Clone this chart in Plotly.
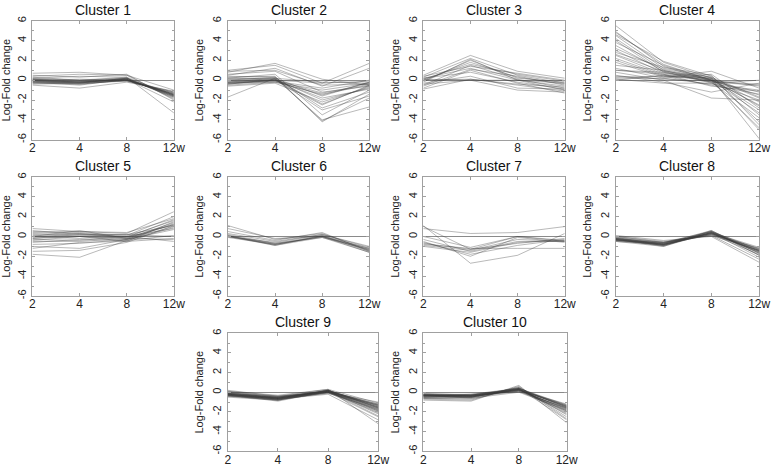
import plotly.graph_objects as go

TIMEPOINTS = ["2", "4", "8", "12w"]
YTICK_VALUES = [-6, -4, -2, 0, 2, 4, 6]
YTICK_LABELS = ["-6", "-4", "-2", "0", "2", "4", "6"]
TITLES = ["Cluster 1", "Cluster 2", "Cluster 3", "Cluster 4", "Cluster 5",
          "Cluster 6", "Cluster 7", "Cluster 8", "Cluster 9", "Cluster 10"]

CLUSTER_1 = [
    [0.0, -0.2, 0.1, -1.5], [-0.2, -0.3, 0.0, -1.4], [0.1, -0.1, 0.2, -1.6],
    [-0.3, -0.4, 0.0, -1.3], [-0.1, -0.2, 0.1, -1.7], [0.2, 0.0, 0.3, -1.5],
    [-0.4, -0.3, -0.1, -1.2], [0.0, -0.3, 0.2, -1.8], [-0.2, -0.1, 0.0, -1.4],
    [0.1, -0.2, 0.1, -1.6], [-0.1, -0.4, 0.0, -1.5], [0.0, -0.2, -0.1, -1.3],
    [0.3, 0.0, 0.2, -1.7], [-0.3, -0.2, 0.1, -1.6], [0.7, 0.8, 0.5, -1.9],
    [0.5, 0.3, 0.6, -2.0], [-0.5, -0.8, -0.2, -1.1], [0.2, 0.4, 0.3, -3.3],
    [-0.2, -0.5, 0.1, -2.2], [0.0, 0.1, 0.0, -1.2], [-0.1, -0.3, 0.2, -1.5],
    [0.1, -0.1, 0.0, -1.4], [0.4, 0.6, 0.5, -1.0],
]
CLUSTER_2 = [
    [0.8, 1.7, 0.1, -0.5], [1.0, 1.5, -0.3, 1.7], [0.5, 1.2, -0.6, 1.2],
    [-1.7, 0.2, -0.2, -0.3], [-0.2, 0.0, -1.3, -0.4], [-0.3, -0.1, -1.5, -0.2],
    [0.0, 0.1, -2.0, -0.8], [-0.4, 0.0, -2.5, -0.5], [0.3, 0.4, -4.2, -1.4],
    [-0.2, 0.2, -4.0, -2.7], [0.2, 0.6, -3.5, -1.0], [-0.5, -0.2, -1.0, -0.3],
    [0.6, 0.9, -1.2, -0.6], [-0.3, 0.0, -0.3, -0.1], [-0.1, 0.0, -1.8, -0.9],
    [0.4, 0.3, -2.8, -1.2], [-0.6, -0.3, -2.2, -0.7], [0.1, 0.2, -1.6, -0.2],
    [-0.2, -0.1, -0.8, 0.0], [0.9, 1.0, -0.5, -0.4], [-0.4, 0.1, -3.0, -1.6],
    [0.2, 0.1, -2.4, -0.6], [-0.3, -0.2, -1.4, -0.5], [0.0, 0.3, -4.1, -1.8],
]
CLUSTER_3 = [
    [0.5, 2.5, 0.9, 0.2], [0.3, 2.2, 0.5, -0.3], [-0.2, 2.1, 0.0, -0.6],
    [0.0, 1.8, 0.3, -0.4], [-0.5, 1.5, 0.1, -0.8], [0.2, 1.2, 0.0, -1.0],
    [-0.8, 1.0, -0.3, -1.3], [-0.9, 0.1, -0.5, -1.1], [0.1, 0.0, -1.0, -1.2],
    [-0.3, 0.4, -0.8, -0.9], [0.4, 1.4, 0.7, 0.0], [-0.1, 2.0, 0.2, -0.2],
    [0.0, 0.1, -0.4, -0.7], [-0.6, 1.1, 0.4, -0.5], [0.2, 0.8, -0.2, -0.9],
    [-0.4, 0.0, 0.0, -0.3], [0.1, 1.6, 0.6, -0.1],
]
CLUSTER_4 = [
    [5.5, 1.8, 0.2, -5.9], [4.8, 1.6, 0.0, -5.0], [4.5, 1.2, 0.3, -4.2],
    [4.2, 1.0, -0.2, -3.8], [4.0, 0.8, 0.1, -3.0], [3.8, 1.5, 0.0, -2.5],
    [3.5, 0.9, -0.3, -2.0], [3.0, 0.7, 0.2, -1.8], [2.8, 1.3, 0.5, -4.5],
    [2.5, 0.6, 0.0, -1.5], [2.2, 0.5, -0.1, -1.2], [2.0, 0.4, 0.2, -2.2],
    [1.8, 0.3, 0.9, -0.8], [1.5, 1.0, 0.0, -3.3], [1.2, 0.2, -0.4, -1.0],
    [1.0, 0.8, -0.2, -0.5], [0.8, 0.0, -1.8, -2.0], [0.5, -0.2, -1.2, -0.3],
    [0.3, 0.4, -0.5, -1.4], [0.1, -0.3, -0.3, 0.0], [0.0, 0.5, 0.0, -0.6],
    [0.2, 0.2, 0.6, -2.8], [4.6, 1.9, 0.4, -3.5], [3.2, 1.1, 0.1, -2.6],
    [1.0, 0.6, -0.6, -1.1], [0.4, 0.1, -0.1, -0.4], [2.6, 0.9, 0.3, -1.7],
    [4.9, 1.4, -0.1, -4.8],
]
CLUSTER_5 = [
    [0.8, 0.5, 0.3, 2.5], [0.5, 0.4, 0.1, 2.0], [0.2, 0.3, 0.0, 1.6],
    [0.0, 0.6, -0.2, 1.4], [-0.2, 0.2, -0.1, 1.2], [-0.4, 0.0, -0.3, 1.0],
    [-1.2, -0.6, -0.5, 1.5], [-1.5, -1.4, -0.6, 1.1], [-1.8, -2.1, -0.4, 0.9],
    [-1.0, -1.2, -0.3, 1.3], [0.3, 0.1, -0.2, -0.3], [-0.3, -0.4, 0.0, -0.5],
    [0.1, 0.0, 0.2, 0.0], [-0.6, -0.3, -0.4, 0.1], [0.4, 0.5, 0.4, 1.8],
    [-0.1, 0.3, -0.1, 1.7], [0.0, -0.2, 0.0, 0.8], [-0.5, -0.5, -0.2, 1.2],
    [0.6, 0.2, 0.2, 1.1], [-0.2, 0.0, -0.5, -0.2], [-0.8, -0.7, -0.3, 0.7],
]
CLUSTER_6 = [
    [1.1, -0.3, 0.3, -1.4], [0.8, -0.2, 0.0, -1.2], [0.5, -0.4, 0.4, -1.5],
    [0.1, -0.8, 0.0, -1.3], [0.0, -0.9, -0.1, -1.6], [0.2, -0.7, 0.1, -1.2],
    [-0.1, -0.8, 0.0, -1.4], [0.0, -0.6, 0.2, -1.1], [0.1, -0.9, 0.1, -1.5],
    [0.0, -0.7, -0.1, -1.3], [0.3, -0.5, 0.2, -1.0], [0.0, -0.8, 0.0, -1.6],
]
CLUSTER_7 = [
    [0.8, 0.3, 0.4, 1.0], [1.1, -2.7, -1.9, 0.3], [1.0, -1.3, 0.0, -0.4],
    [-0.3, -1.5, -0.5, -0.5], [-0.6, -1.8, -0.9, -0.3], [-0.8, -1.2, -1.2, -1.2],
    [-0.9, -1.4, -0.3, -0.5], [-1.0, -1.6, -0.6, -0.4], [-0.5, -2.0, -0.1, -0.6],
    [-0.7, -1.3, -0.7, -0.2], [0.0, -1.1, 0.0, -0.5],
]
CLUSTER_8 = [
    [-0.3, -0.8, 0.4, -1.5], [-0.2, -0.7, 0.3, -1.3], [-0.4, -0.9, 0.5, -1.7],
    [-0.1, -0.6, 0.2, -1.2], [-0.5, -1.0, 0.6, -1.9], [0.0, -0.5, 0.1, -1.4],
    [-0.3, -0.9, 0.4, -2.1], [-0.2, -0.8, 0.3, -1.6], [-0.4, -0.7, 0.5, -1.4],
    [0.1, -0.4, 0.0, -2.6], [-0.3, -0.8, 0.2, -1.8], [-0.2, -0.9, 0.4, -1.1],
    [-0.4, -0.6, 0.3, -1.5], [-0.1, -0.8, 0.5, -1.3], [-0.3, -1.0, 0.4, -1.6],
    [-0.5, -0.8, 0.2, -1.4], [-0.2, -0.7, 0.6, -1.7], [0.0, -0.6, 0.1, -2.3],
    [-0.3, -0.9, 0.3, -1.2], [-0.4, -0.8, 0.4, -1.5], [-0.2, -0.6, 0.5, -1.9],
    [-0.3, -0.7, 0.3, -1.4],
]
CLUSTER_9 = [
    [-0.2, -0.6, 0.1, -1.5], [-0.1, -0.5, 0.0, -1.3], [-0.3, -0.7, 0.2, -1.8],
    [0.0, -0.4, 0.1, -1.2], [-0.4, -0.8, 0.0, -2.0], [-0.2, -0.6, 0.2, -1.6],
    [0.1, -0.3, 0.3, -1.1], [-0.3, -0.9, 0.1, -2.2], [-0.2, -0.7, -0.1, -1.7],
    [-0.1, -0.5, 0.2, -1.4], [-0.5, -0.8, 0.0, -2.5], [0.2, -0.4, 0.3, -3.2],
    [-0.3, -0.6, 0.1, -1.9], [-0.2, -0.7, 0.0, -1.6], [-0.1, -0.6, 0.2, -1.3],
    [-0.4, -0.7, -0.2, -2.8], [-0.2, -0.5, 0.1, -1.5], [0.0, -0.6, 0.0, -1.8],
    [-0.3, -0.8, 0.2, -1.4], [-0.2, -0.6, 0.1, -2.1], [-0.1, -0.4, 0.0, -1.0],
    [-0.3, -0.7, 0.1, -1.7], [-0.2, -0.8, 0.2, -1.5], [0.1, -0.5, 0.1, -2.4],
    [-0.4, -0.6, 0.0, -1.2], [-0.2, -0.7, 0.1, -1.9], [-0.3, -0.5, 0.2, -1.6],
    [-0.1, -0.6, -0.1, -1.3],
]
CLUSTER_10 = [
    [-0.3, -0.3, 0.3, -1.5], [-0.4, -0.4, 0.2, -1.7], [-0.2, -0.2, 0.4, -1.3],
    [-0.5, -0.5, 0.3, -2.0], [-0.3, -0.4, 0.1, -1.6], [-0.6, -0.6, 0.5, -2.3],
    [-0.1, -0.3, 0.2, -1.4], [-0.4, -0.3, 0.3, -1.8], [-0.3, -0.5, 0.4, -1.5],
    [-0.7, -0.8, 0.6, -2.7], [-0.2, -0.4, 0.2, -1.2], [-0.5, -0.4, 0.3, -1.9],
    [-0.3, -0.3, 0.1, -1.6], [-0.8, -0.9, 0.7, -3.1], [-0.4, -0.5, 0.3, -2.1],
    [-0.2, -0.3, 0.4, -1.4], [-0.3, -0.4, 0.2, -1.7], [-0.6, -0.5, 0.5, -2.5],
    [-0.4, -0.2, 0.3, -1.5], [-0.3, -0.6, 0.0, -1.8], [-0.5, -0.3, 0.4, -1.6],
    [-0.2, -0.4, 0.2, -1.3], [-0.4, -0.4, 0.3, -2.2], [-0.3, -0.5, 0.1, -1.9],
    [-0.6, -0.7, 0.4, -2.8], [-0.3, -0.3, 0.3, -1.4],
]

CLUSTERS = [CLUSTER_1, CLUSTER_2, CLUSTER_3, CLUSTER_4, CLUSTER_5,
            CLUSTER_6, CLUSTER_7, CLUSTER_8, CLUSTER_9, CLUSTER_10]

# panel boxes in pixels (left, right, top, bottom)
W, H = 778, 468
BOXES = [
    (30, 174, 16, 137), (229, 373, 16, 137), (428, 572, 16, 137), (624, 770, 16, 137),
    (30, 174, 175, 296), (229, 373, 175, 296), (428, 572, 175, 296), (624, 770, 175, 296),
    (229, 382, 334, 454), (428, 574, 334, 454),
]

FONT = "Liberation Sans, Arial, sans-serif"
AXCOL = "#a0a0a0"
LINECOL = "rgba(60,60,60,0.36)"

fig = go.Figure()
for i, (profiles, box) in enumerate(zip(CLUSTERS, BOXES)):
    n = i + 1
    xa = "x" if n == 1 else f"x{n}"
    ya = "y" if n == 1 else f"y{n}"
    for prof in profiles:
        fig.add_trace(go.Scatter(
            x=TIMEPOINTS, y=prof, mode="lines", xaxis=xa, yaxis=ya,
            line=dict(color=LINECOL, width=1), showlegend=False, hoverinfo="skip"))
    l, r, t, b = box
    xd = [l / W, r / W]
    yd = [1 - b / H, 1 - t / H]
    xkey = "xaxis" if n == 1 else f"xaxis{n}"
    ykey = "yaxis" if n == 1 else f"yaxis{n}"
    fig.update_layout(**{
        xkey: dict(domain=xd, anchor=ya, type="category",
                   categoryorder="array", categoryarray=TIMEPOINTS,
                   range=[0, 3], showgrid=False, zeroline=False,
                   showline=True, linecolor=AXCOL, linewidth=1, mirror="allticks",
                   ticks="inside", ticklen=3, tickcolor=AXCOL, ticklabelstandoff=-3,
                   tickfont=dict(family=FONT, size=12, color="#222")),
        ykey: dict(domain=yd, anchor=xa, range=[-6, 6],
                   tickvals=YTICK_VALUES, ticktext=YTICK_LABELS, tickangle=-90,
                   showgrid=False, zeroline=True, zerolinecolor="#8a8a8a", zerolinewidth=1,
                   showline=True, linecolor=AXCOL, linewidth=1, mirror="allticks",
                   ticks="inside", ticklen=3, tickcolor=AXCOL, ticklabelstandoff=1,
                   minor=dict(dtick=1, tick0=0, ticks="inside", ticklen=2, tickcolor=AXCOL),
                   tickfont=dict(family=FONT, size=11, color="#222"),
                   title=dict(text="Log-Fold change", standoff=5,
                              font=dict(family=FONT, size=11, color="#222"))),
    })
    fig.add_annotation(
        text=TITLES[i], xref="paper", yref="paper",
        x=(xd[0] + xd[1]) / 2, y=yd[1] + 1 / H, xanchor="center", yanchor="bottom",
        showarrow=False, font=dict(family=FONT, size=14, color="#111"))

fig.update_layout(
    width=W, height=H, margin=dict(l=0, r=0, t=0, b=0),
    paper_bgcolor="white", plot_bgcolor="white", showlegend=False)

fig.write_html("out.html", config={"displayModeBar": False},
               post_script="document.body.style.margin='0';document.body.style.overflow='hidden';")
